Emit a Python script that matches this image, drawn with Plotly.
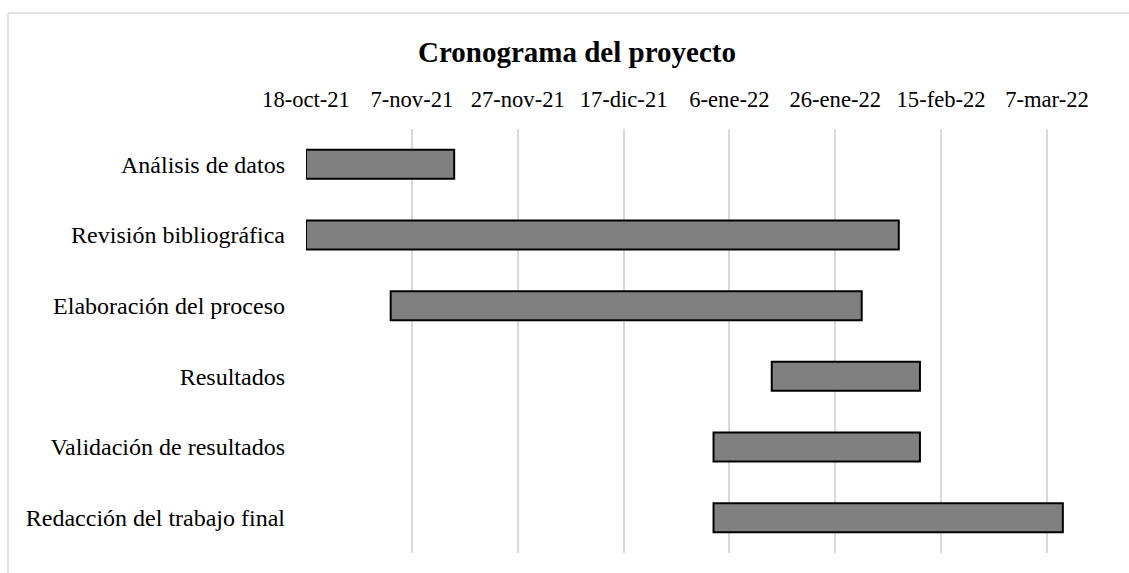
import plotly.graph_objects as go
import pandas as pd

# ---- data ----
tasks = [
    "Análisis de datos",
    "Revisión bibliográfica",
    "Elaboración del proceso",
    "Resultados",
    "Validación de resultados",
    "Redacción del trabajo final",
]
start_dates = ["2021-10-18", "2021-10-18", "2021-11-03", "2022-01-14", "2022-01-03", "2022-01-03"]
end_dates = ["2021-11-15", "2022-02-07", "2022-01-31", "2022-02-11", "2022-02-11", "2022-03-10"]
tick_dates = ["2021-10-18", "2021-11-07", "2021-11-27", "2021-12-17",
              "2022-01-06", "2022-01-26", "2022-02-15", "2022-03-07"]
tick_labels = ["18-oct-21", "7-nov-21", "27-nov-21", "17-dic-21",
               "6-ene-22", "26-ene-22", "15-feb-22", "7-mar-22"]
title_text = "Cronograma del proyecto"

starts = pd.to_datetime(start_dates)
ends = pd.to_datetime(end_dates)
durations_ms = [(e - s).total_seconds() * 1000 for s, e in zip(starts, ends)]

W, H = 1129, 573
L, R, T, B = 306, 0, 129, 20
plot_w = W - L - R
plot_h = H - T - B

fig = go.Figure()
fig.add_trace(go.Bar(
    y=tasks,
    x=durations_ms,
    base=[s.strftime("%Y-%m-%d") for s in starts],
    orientation="h",
    marker=dict(color="#808080", line=dict(color="#000000", width=2)),
    hoverinfo="skip",
    showlegend=False,
))

serif = "Liberation Serif, Times New Roman, serif"

fig.update_layout(
    width=W, height=H,
    margin=dict(l=L, r=R, t=T, b=B),
    paper_bgcolor="white",
    plot_bgcolor="white",
    bargap=0.59,
    font=dict(family=serif, size=22, color="#000000"),
    title=dict(
        text="<b>" + title_text + "</b>",
        font=dict(family=serif, size=29, color="#000000"),
        x=577 / W, xref="container", xanchor="center",
        y=1 - 52 / H, yref="container", yanchor="middle",
    ),
    xaxis=dict(
        type="date",
        side="top",
        range=["2021-10-18", "2022-03-22 12:00"],
        tickvals=tick_dates,
        ticktext=tick_labels,
        tickfont=dict(family=serif, size=22.6, color="#000000"),
        showgrid=True,
        gridcolor="#d9d9d9",
        gridwidth=1.5,
        zeroline=False,
        showline=False,
        ticks="",
        ticklabelstandoff=16,
    ),
    yaxis=dict(
        autorange="reversed",
        tickfont=dict(family=serif, size=24, color="#000000"),
        showgrid=False,
        zeroline=False,
        showline=False,
        ticks="",
        ticklabelstandoff=20,
    ),
    shapes=[
        dict(type="line", xref="paper", yref="paper",
             x0=(8 - L) / plot_w, x1=(8 - L) / plot_w,
             y0=1 + (T - 13) / plot_h, y1=-(B + 5) / plot_h,
             line=dict(color="#d9d9d9", width=1.5)),
        dict(type="line", xref="paper", yref="paper",
             x0=(8 - L) / plot_w, x1=1.05,
             y0=1 + (T - 13) / plot_h, y1=1 + (T - 13) / plot_h,
             line=dict(color="#d9d9d9", width=1.5)),
    ],
)

fig.write_html("out.html")
